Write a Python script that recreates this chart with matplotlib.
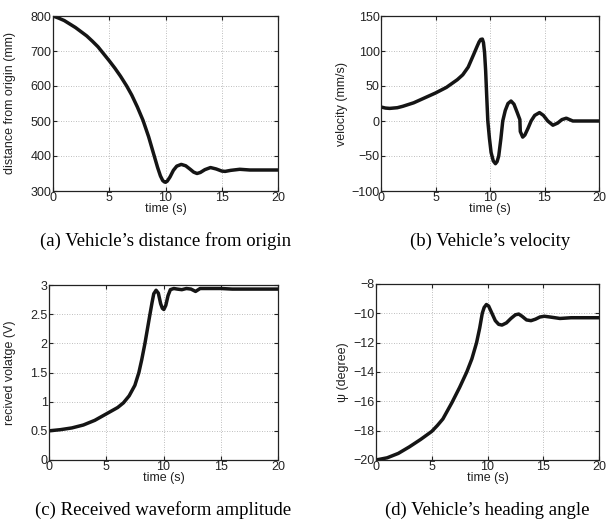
import numpy as np
import matplotlib.pyplot as plt

# data
t_a = [0, 0.5, 1, 1.5, 2, 2.5, 3, 3.5, 4, 4.3, 5, 5.5, 6, 6.55, 7, 7.5, 8, 8.5, 9,
       9.3, 9.55, 9.75, 9.9, 10.0, 10.15, 10.4, 10.7, 11.0, 11.4, 11.8, 12.2, 12.5,
       12.8, 13.1, 13.5, 14.0, 14.5, 15.0, 15.3, 15.8, 16.6, 17.5, 20]
dist = [800, 794, 787, 777, 767, 755, 743, 728, 712, 700, 672, 651, 628, 600, 574,
        540, 502, 455, 400, 367, 343, 330, 326, 325, 328, 340, 359, 371, 376, 372, 362,
        354, 350, 353, 361, 367, 363, 357, 356, 359, 362, 360, 360]

t_b = [0, 0.4, 0.8, 1.5, 2, 3, 4, 5, 6, 7, 7.5, 8, 8.5, 8.8, 9.0, 9.15, 9.3, 9.4,
       9.5, 9.6, 9.7, 9.8, 9.95, 10.1, 10.3, 10.5, 10.65, 10.8, 11.0, 11.17, 11.4,
       11.65, 11.93, 12.2, 12.5, 12.74, 12.78, 13.0, 13.2, 13.5, 13.77, 14.1, 14.54,
       14.9, 15.3, 15.77, 16.2, 16.6, 17.0, 17.3, 17.6, 18, 20]
vel = [20, 18.5, 18, 19, 21, 26, 33, 40, 48, 59, 66, 77, 95, 106, 113, 116.5, 117,
       112, 98, 72, 35, 0, -25, -45, -57, -61, -58, -50, -25, 0, 15, 25, 28.5, 24, 12,
       2, -15, -23, -20, -10, 0, 8, 12, 8, 0, -6, -3, 2, 4, 2, 0, 0, 0]

t_c = [0, 1, 2, 3, 4, 5, 6, 6.5, 7, 7.5, 7.85, 8.1, 8.38, 8.6, 8.82, 9.0, 9.15,
       9.35, 9.55, 9.75, 9.9, 10.03, 10.2, 10.4, 10.6, 10.9, 11.2, 11.6, 12.0, 12.4,
       12.8, 13.2, 14, 15, 16, 20]
volt = [0.5, 0.52, 0.55, 0.6, 0.68, 0.79, 0.9, 0.98, 1.1, 1.28, 1.5, 1.72, 2.0,
        2.25, 2.5, 2.7, 2.85, 2.91, 2.86, 2.68, 2.6, 2.58, 2.65, 2.82, 2.92, 2.94,
        2.93, 2.92, 2.94, 2.93, 2.89, 2.94, 2.94, 2.94, 2.93, 2.93]

t_d = [0, 1, 2, 3, 4, 5, 5.5, 6, 6.8, 7.5, 8.14, 8.6, 9.02, 9.3, 9.53, 9.7, 9.9,
       10.1, 10.4, 10.7, 11.0, 11.3, 11.7, 12.1, 12.5, 12.8, 13.1, 13.5, 13.9, 14.3,
       14.7, 15.1, 15.6, 16.5, 17.5, 20]
psi = [-20, -19.85, -19.55, -19.1, -18.6, -18.05, -17.65, -17.2, -16.1, -15.05, -14,
       -13.1, -12, -11, -10, -9.6, -9.4, -9.5, -10.0, -10.5, -10.75, -10.8, -10.65,
       -10.35, -10.1, -10.05, -10.2, -10.45, -10.5, -10.4, -10.25, -10.2, -10.25,
       -10.35, -10.3, -10.3]

plt.rcParams['font.family'] = ['Liberation Sans', 'DejaVu Sans']

fig = plt.figure(figsize=(6.11, 5.25), dpi=100)

# axes box in pixels (left, top, width, height), ylabel centre x in pixels
panels = [
    ([53, 16, 225, 175], 10.5, t_a, dist, (300, 800), [300, 400, 500, 600, 700, 800],
     'distance from origin (mm)', "(a) Vehicle’s distance from origin"),
    ([381, 16, 218, 175], 342, t_b, vel, (-100, 150), [-100, -50, 0, 50, 100, 150],
     'velocity (mm/s)', "(b) Vehicle’s velocity"),
    ([49, 285, 229, 175], 10.5, t_c, volt, (0, 3), [0, 0.5, 1, 1.5, 2, 2.5, 3],
     'recived volatge (V)', "(c) Received waveform amplitude"),
    ([376, 284, 223, 176], 343, t_d, psi, (-20, -8), [-20, -18, -16, -14, -12, -10, -8],
     'ψ (degree)', "(d) Vehicle’s heading angle"),
]

W, H = 611, 525
for (x0, y0, w, h), ylx, t, y, ylim, yticks, ylab, cap in panels:
    ax = fig.add_axes([x0 / W, 1 - (y0 + h) / H, w / W, h / H])
    ax.plot(t, y, color='#151515', lw=2.5, solid_capstyle='round', solid_joinstyle='round')
    ax.set_xlim(0, 20)
    ax.set_ylim(*ylim)
    ax.set_xticks([0, 5, 10, 15, 20])
    ax.set_yticks(yticks)
    ax.set_yticklabels([('%g' % v).replace('-', '\u2212') for v in yticks])
    ax.grid(True, linestyle=(0, (1, 2)), color='#a8a8a8', linewidth=0.6)
    ax.tick_params(direction='in', top=True, right=True, length=3, labelsize=9,
                   pad=1, colors='#222222')
    for s in ax.spines.values():
        s.set_linewidth(0.9)
        s.set_color('#222222')
    ax.set_xlabel('time (s)', fontsize=9, labelpad=-1, color='#222222')
    ax.set_ylabel(ylab, fontsize=9, color='#222222', va='center')
    ax.yaxis.set_label_coords((ylx - x0) / w, 0.5)
    fig.text((x0 + w / 2) / W, 1 - (y0 + h + 50) / H, cap, ha='center', va='center',
             fontsize=13.5, family='Liberation Serif')

fig.savefig('out.png', dpi=100)
